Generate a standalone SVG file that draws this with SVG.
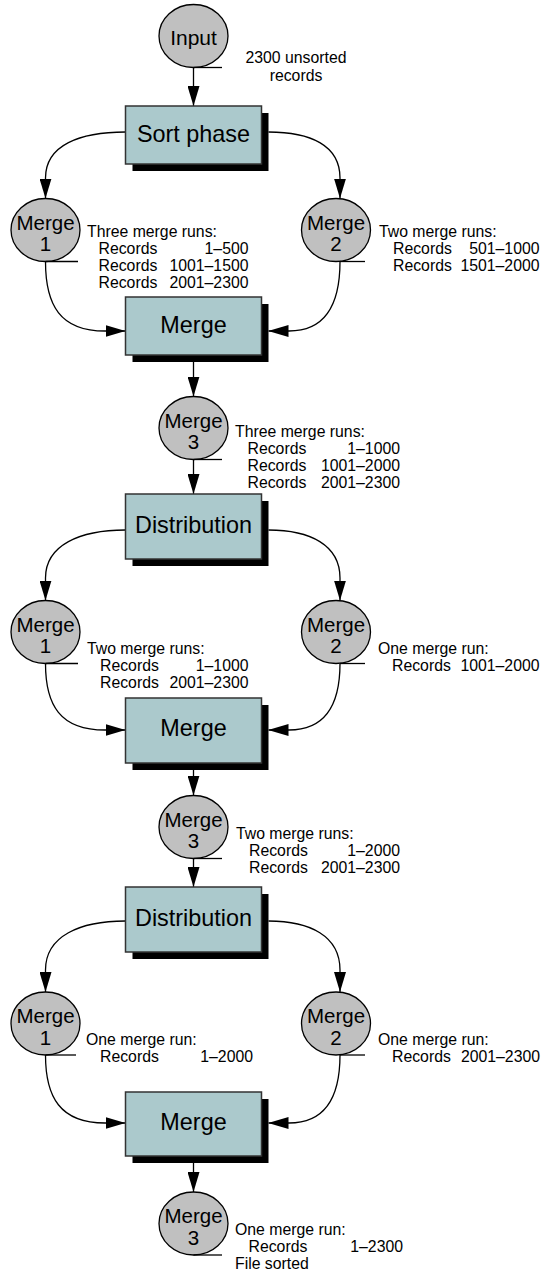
<svg xmlns="http://www.w3.org/2000/svg" width="545" height="1272" viewBox="0 0 545 1272">
<style>
.disk{fill:#c0c0c0;stroke:#000;stroke-width:1.3}
.tail{stroke:#000;stroke-width:1.3;fill:none}
.box{fill:#abc9cc;stroke:#333;stroke-width:1.5}
.shadow{fill:#000}
.conn{fill:none;stroke:#000;stroke-width:1.3;marker-end:url(#ah)}
.ct{font-family:"Liberation Sans",Arial,Helvetica,sans-serif;font-size:20.5px;text-anchor:middle;fill:#000}
.bt{font-family:"Liberation Sans",Arial,Helvetica,sans-serif;font-size:23.4px;text-anchor:middle;fill:#000}
.nt{font-family:"Liberation Sans",Arial,Helvetica,sans-serif;font-size:15.8px;fill:#000}
.r{text-anchor:end}
.m{text-anchor:middle}
</style>
<defs>
<marker id="ah" viewBox="0 0 20 12" refX="20" refY="6" markerWidth="20" markerHeight="12" markerUnits="userSpaceOnUse" orient="auto">
<path d="M0,0 L20,6 L0,12 Z" fill="#000"/>
</marker>
</defs>

<g id="connectors">
<path class="conn" d="M193.5,68 L193.5,106"/>
<path class="conn" d="M125.5,132 C80,132 45.5,145 45.5,178 L45.5,198.5"/>
<path class="conn" d="M268.5,132 C310,132 340,145 340,178 L340,198.5"/>
<path class="conn" d="M45.5,261.5 C45.5,305 60,331 105,331 L125.5,331"/>
<path class="conn" d="M340,261.5 C340,305 325,331 289,331 L268.5,331"/>
<path class="conn" d="M193.5,362 L193.5,396.5"/>
<path class="conn" d="M193.5,459.5 L193.5,494"/>
<path class="conn" d="M125.5,530 C80,530 45.5,545 45.5,578 L45.5,600.5"/>
<path class="conn" d="M268.5,530 C310,530 340,545 340,578 L340,600.5"/>
<path class="conn" d="M45.5,663.5 C45.5,705 60,730 105,730 L125.5,730"/>
<path class="conn" d="M340,663.5 C340,705 325,730 289,730 L268.5,730"/>
<path class="conn" d="M193.5,770 L193.5,795.5"/>
<path class="conn" d="M193.5,858.5 L193.5,887"/>
<path class="conn" d="M125.5,921 C80,921 45.5,936 45.5,970 L45.5,992"/>
<path class="conn" d="M268.5,921 C310,921 340,936 340,970 L340,992"/>
<path class="conn" d="M45.5,1055 C45.5,1097 60,1123 105,1123 L125.5,1123"/>
<path class="conn" d="M340,1055 C340,1097 325,1123 289,1123 L268.5,1123"/>
<path class="conn" d="M193.5,1163 L193.5,1192"/>
</g>

<g id="input">
<ellipse class="disk" cx="193.5" cy="36" rx="34.5" ry="31.5"/>
<line class="tail" x1="193.5" y1="67.5" x2="222" y2="67.5"/>
<text class="ct" x="193.5" y="44.5" style="font-size:21px">Input</text>
<text class="nt m" x="296" y="63">2300 unsorted</text>
<text class="nt m" x="296" y="81">records</text>
</g>

<g id="sort-phase">
<rect class="shadow" x="132.5" y="113" width="136" height="58"/>
<rect class="box" x="125.5" y="106" width="136" height="58"/>
<text class="bt" x="193.5" y="141.5">Sort phase</text>
</g>

<g id="a-merge1">
<ellipse class="disk" cx="45.5" cy="230" rx="34.5" ry="31.5"/>
<line class="tail" x1="45.5" y1="261.5" x2="78" y2="261.5"/>
<text class="ct" x="45.5" y="229.5">Merge</text>
<text class="ct" x="45.5" y="251">1</text>
<text class="nt" x="87" y="237">Three merge runs:</text>
<text class="nt" x="98.5" y="254">Records</text><text class="nt r" x="248.5" y="254">1–500</text>
<text class="nt" x="98.5" y="271">Records</text><text class="nt r" x="248.5" y="271">1001–1500</text>
<text class="nt" x="98.5" y="288">Records</text><text class="nt r" x="248.5" y="288">2001–2300</text>
</g>

<g id="a-merge2">
<ellipse class="disk" cx="336" cy="230" rx="34.5" ry="31.5"/>
<line class="tail" x1="340" y1="261.5" x2="365" y2="261.5"/>
<text class="ct" x="336" y="229.5">Merge</text>
<text class="ct" x="336" y="251">2</text>
<text class="nt" x="379" y="237">Two merge runs:</text>
<text class="nt" x="393" y="254">Records</text><text class="nt r" x="539.5" y="254">501–1000</text>
<text class="nt" x="393" y="271">Records</text><text class="nt r" x="539.5" y="271">1501–2000</text>
</g>

<g id="a-merge-box">
<rect class="shadow" x="132.5" y="304" width="136" height="58"/>
<rect class="box" x="125.5" y="297" width="136" height="58"/>
<text class="bt" x="193.5" y="332.5">Merge</text>
</g>

<g id="a-merge3">
<ellipse class="disk" cx="193.5" cy="428" rx="34.5" ry="31.5"/>
<line class="tail" x1="193.5" y1="459.5" x2="222" y2="459.5"/>
<text class="ct" x="193.5" y="427.5">Merge</text>
<text class="ct" x="193.5" y="449">3</text>
<text class="nt" x="235" y="437">Three merge runs:</text>
<text class="nt" x="247.5" y="454">Records</text><text class="nt r" x="400" y="454">1–1000</text>
<text class="nt" x="247.5" y="471">Records</text><text class="nt r" x="400" y="471">1001–2000</text>
<text class="nt" x="247.5" y="488">Records</text><text class="nt r" x="400" y="488">2001–2300</text>
</g>

<g id="b-distribution">
<rect class="shadow" x="132.5" y="501" width="136" height="65"/>
<rect class="box" x="125.5" y="494" width="136" height="65"/>
<text class="bt" x="193.5" y="533">Distribution</text>
</g>

<g id="b-merge1">
<ellipse class="disk" cx="45.5" cy="632" rx="34.5" ry="31.5"/>
<line class="tail" x1="45.5" y1="663.5" x2="78" y2="663.5"/>
<text class="ct" x="45.5" y="631.5">Merge</text>
<text class="ct" x="45.5" y="653">1</text>
<text class="nt" x="87" y="654">Two merge runs:</text>
<text class="nt" x="100" y="671">Records</text><text class="nt r" x="248.5" y="671">1–1000</text>
<text class="nt" x="100" y="688">Records</text><text class="nt r" x="248.5" y="688">2001–2300</text>
</g>

<g id="b-merge2">
<ellipse class="disk" cx="336" cy="632" rx="34.5" ry="31.5"/>
<line class="tail" x1="340" y1="663.5" x2="365" y2="663.5"/>
<text class="ct" x="336" y="631.5">Merge</text>
<text class="ct" x="336" y="653">2</text>
<text class="nt" x="378" y="654">One merge run:</text>
<text class="nt" x="392" y="671">Records</text><text class="nt r" x="539.5" y="671">1001–2000</text>
</g>

<g id="b-merge-box">
<rect class="shadow" x="132.5" y="705" width="136" height="65"/>
<rect class="box" x="125.5" y="698" width="136" height="65"/>
<text class="bt" x="193.5" y="736">Merge</text>
</g>

<g id="b-merge3">
<ellipse class="disk" cx="193.5" cy="827" rx="34.5" ry="31.5"/>
<line class="tail" x1="193.5" y1="858.5" x2="222" y2="858.5"/>
<text class="ct" x="193.5" y="826.5">Merge</text>
<text class="ct" x="193.5" y="848">3</text>
<text class="nt" x="236" y="839">Two merge runs:</text>
<text class="nt" x="249" y="856">Records</text><text class="nt r" x="400" y="856">1–2000</text>
<text class="nt" x="249" y="873">Records</text><text class="nt r" x="400" y="873">2001–2300</text>
</g>

<g id="c-distribution">
<rect class="shadow" x="132.5" y="894" width="136" height="65"/>
<rect class="box" x="125.5" y="887" width="136" height="65"/>
<text class="bt" x="193.5" y="926">Distribution</text>
</g>

<g id="c-merge1">
<ellipse class="disk" cx="45.5" cy="1023.5" rx="34.5" ry="31.5"/>
<line class="tail" x1="45.5" y1="1055" x2="76" y2="1055"/>
<text class="ct" x="45.5" y="1023">Merge</text>
<text class="ct" x="45.5" y="1044.5">1</text>
<text class="nt" x="86" y="1045">One merge run:</text>
<text class="nt" x="100" y="1062">Records</text><text class="nt r" x="253" y="1062">1–2000</text>
</g>

<g id="c-merge2">
<ellipse class="disk" cx="336" cy="1023.5" rx="34.5" ry="31.5"/>
<line class="tail" x1="340" y1="1055" x2="365" y2="1055"/>
<text class="ct" x="336" y="1023">Merge</text>
<text class="ct" x="336" y="1044.5">2</text>
<text class="nt" x="378" y="1045">One merge run:</text>
<text class="nt" x="392" y="1062">Records</text><text class="nt r" x="540" y="1062">2001–2300</text>
</g>

<g id="c-merge-box">
<rect class="shadow" x="132.5" y="1099" width="136" height="64"/>
<rect class="box" x="125.5" y="1092" width="136" height="64"/>
<text class="bt" x="193.5" y="1129.5">Merge</text>
</g>

<g id="c-merge3">
<ellipse class="disk" cx="193.5" cy="1223.5" rx="34.5" ry="31.5"/>
<line class="tail" x1="193.5" y1="1255" x2="222" y2="1255"/>
<text class="ct" x="193.5" y="1223">Merge</text>
<text class="ct" x="193.5" y="1244.5">3</text>
<text class="nt" x="235" y="1235">One merge run:</text>
<text class="nt" x="248.5" y="1252">Records</text><text class="nt r" x="403" y="1252">1–2300</text>
<text class="nt" x="235" y="1268.5">File sorted</text>
</g>
</svg>
